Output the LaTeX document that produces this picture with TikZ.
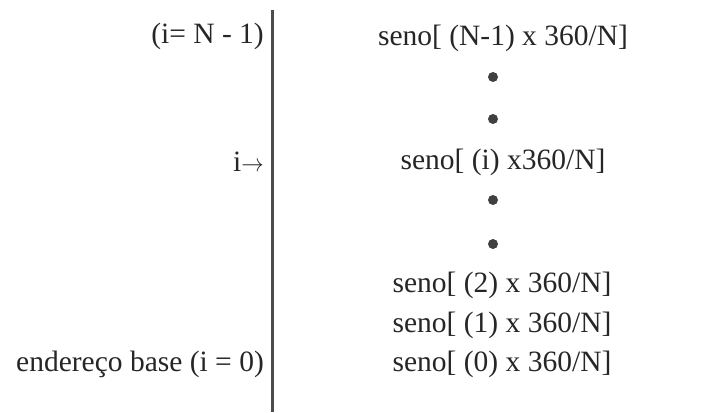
\documentclass[tikz,border=0pt]{standalone}
\usepackage{fontspec}
\usepackage{graphicx}
\setmainfont{Liberation Serif}
\begin{document}
\begin{tikzpicture}[x=1pt,y=1pt,
  lbl/.style={inner sep=0pt,text=black!85,font=\fontsize{29.5}{35}\selectfont},
  leftlbl/.style={lbl,anchor=east},
  entry/.style={lbl,anchor=center},
  dotmark/.style={circle,fill=black!75,inner sep=0pt,minimum size=10pt}]
\useasboundingbox (0,0) rectangle (722,412);
\coordinate (top) at (272,402);
\coordinate (bot) at (272,0);
\draw[line width=3pt,black!70] (top) -- (bot);
\node[leftlbl] (lN) at (264,376) {(i= N - 1)};
\node[leftlbl] (li) at (264,250) {i\scalebox{0.9}[1]{$\rightarrow$}};
\node[leftlbl] (l0) at (264,48) {endereço base (i = 0)};
\node[entry] (eN) at (503,374) {seno[ (N-1) x 360/N]};
\node[dotmark] (d1) at (493,335) {};
\node[dotmark] (d2) at (493,293) {};
\node[entry] (ei) at (503,250) {seno[ (i) x360/N]};
\node[dotmark] (d3) at (493,212) {};
\node[dotmark] (d4) at (493,168) {};
\node[entry] (e2) at (502,127) {seno[ (2) x 360/N]};
\node[entry] (e1) at (502,87) {seno[ (1) x 360/N]};
\node[entry] (e0) at (502,48) {seno[ (0) x 360/N]};
\end{tikzpicture}
\end{document}
